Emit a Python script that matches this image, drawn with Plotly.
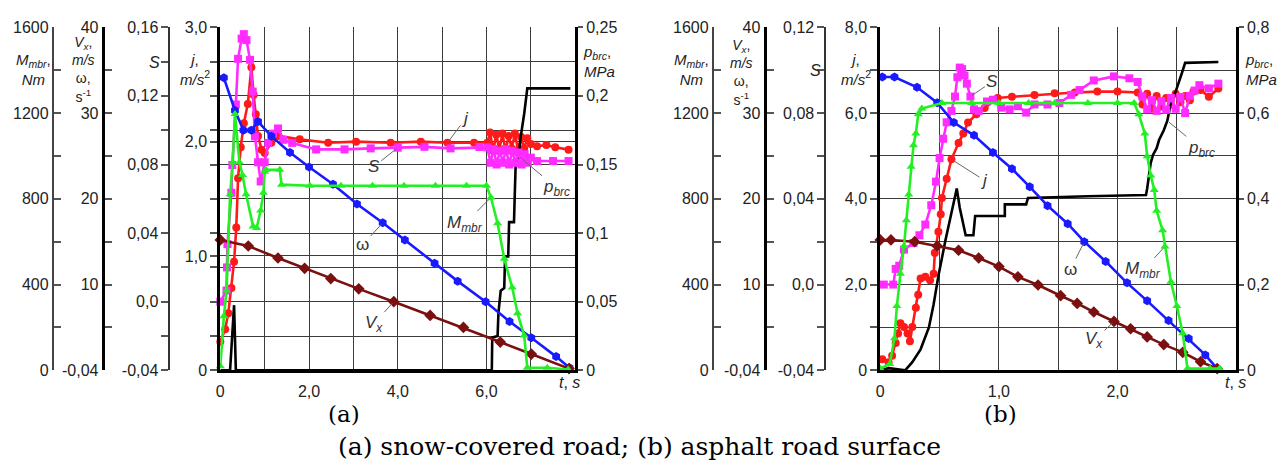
import plotly.graph_objects as go

W, H = 1282, 468
def fx(p): return p / W
def fy(p): return 1 - p / H

# ---------------- data: panel (a) snow-covered road ----------------
ta_w = [0.08, 0.33, 0.52, 0.70, 0.85, 1.15, 1.57, 2.0, 2.54, 3.08, 3.66, 4.16, 4.83, 5.35, 5.98, 6.52, 7.01, 7.57, 7.87]
w_a  = [34.1, 30.3, 28.0, 28.0, 29.0, 27.3, 25.4, 23.7, 21.7, 19.4, 17.2, 15.2, 12.5, 10.4, 8.0, 5.7, 3.8, 1.6, 0.3]

ta_v = [0.0, 0.63, 1.30, 1.90, 2.49, 3.12, 3.91, 4.73, 5.48, 6.31, 7.01, 7.86]
v_a  = [15.2, 14.5, 13.1, 11.9, 10.7, 9.5, 8.0, 6.4, 5.0, 3.3, 1.9, 0.2]

ta_j = [0.0, 0.11, 0.18, 0.25, 0.31, 0.36, 0.40, 0.46, 0.53, 0.62, 0.70, 0.75, 0.80, 0.85, 0.93, 1.00,
        1.15, 1.31, 1.79, 2.43, 3.06, 3.84, 4.52, 5.12, 5.72, 6.02, 6.08, 6.15, 6.22, 6.29, 6.36, 6.43,
        6.50, 6.57, 6.64, 6.71, 6.78, 6.85, 6.92, 7.00, 7.14, 7.35, 7.55, 7.85]
j_a  = [0.25, 0.36, 0.50, 0.72, 0.95, 1.25, 1.68, 1.95, 2.16, 2.33, 2.65, 2.41, 2.24, 2.05, 1.93, 1.90,
        1.99, 2.05, 2.02, 1.99, 2.00, 1.99, 2.00, 1.99, 1.99, 1.99, 2.08, 1.92, 2.06, 1.93, 2.07, 1.92,
        2.05, 1.94, 2.07, 1.93, 2.04, 1.94, 2.03, 1.98, 1.96, 1.97, 1.95, 1.93]

ta_s = [0.0, 0.14, 0.15, 0.16, 0.25, 0.27, 0.35, 0.40, 0.48, 0.53, 0.59, 0.67, 0.73, 0.78, 0.85, 0.91,
        1.00, 1.08, 1.19, 1.30, 1.42, 1.62, 2.16, 2.80, 3.39, 4.00, 4.60, 5.19, 5.84, 6.02, 6.09, 6.16,
        6.23, 6.30, 6.37, 6.44, 6.51, 6.58, 6.65, 6.72, 6.79, 6.86, 6.93, 7.00, 7.14, 7.50, 7.85]
s_a  = [0.0, 0.0065, 0.020, 0.0336, 0.0635, 0.0797, 0.115, 0.1416, 0.1534, 0.156, 0.1525, 0.141, 0.1225,
        0.0964, 0.0813, 0.0701, 0.0813, 0.0926, 0.098, 0.101, 0.0944, 0.0926, 0.0888, 0.0888, 0.0894,
        0.0898, 0.0903, 0.0894, 0.0902, 0.090, 0.081, 0.089, 0.080, 0.088, 0.081, 0.089, 0.080, 0.088,
        0.081, 0.087, 0.080, 0.086, 0.081, 0.084, 0.082, 0.082, 0.082]

ta_m = [0.0, 0.08, 0.14, 0.22, 0.28, 0.33, 0.43, 0.50, 0.58, 0.74, 0.82, 0.91, 0.97, 1.00, 1.03, 1.34,
        1.38, 2.02, 2.72, 3.43, 4.14, 4.85, 5.55, 6.00, 6.10, 6.25, 6.40, 6.58, 6.70, 6.85, 6.92, 7.37, 7.84]
m_a  = [19, 252, 372, 821, 971, 1195, 971, 911, 821, 671, 664, 746, 828, 926, 935, 935,
        866, 861, 861, 861, 861, 861, 861, 861, 806, 686, 521, 386, 266, 162, 12, 12, 4]

ta_p = [0.0, 0.22, 0.31, 0.35, 6.12, 6.13, 6.25, 6.27, 6.32, 6.40, 6.42, 6.49, 6.51, 6.62, 6.64, 6.66,
        6.73, 6.77, 6.85, 6.90, 6.92, 7.89]
p_a  = [0.0, 0.0, 0.0475, 0.0, 0.0, 0.024, 0.025, 0.042, 0.058, 0.060, 0.083, 0.083, 0.108, 0.108, 0.131,
        0.152, 0.156, 0.170, 0.187, 0.203, 0.2055, 0.2055]

# ---------------- data: panel (b) asphalt road surface ----------------
tb_w = [0.017, 0.12, 0.31, 0.48, 0.62, 0.79, 0.95, 1.11, 1.26, 1.41, 1.58, 1.72, 1.90, 2.08, 2.25, 2.43, 2.60, 2.74, 2.84]
w_b  = [34.2, 34.2, 33.0, 31.2, 28.9, 27.4, 25.4, 23.5, 21.4, 19.2, 17.1, 15.0, 12.7, 10.2, 8.1, 5.8, 3.7, 1.8, 0.2]

tb_v = [0.0, 0.09, 0.29, 0.48, 0.66, 0.83, 1.00, 1.16, 1.33, 1.52, 1.66, 1.80, 1.97, 2.11, 2.25, 2.39, 2.55, 2.70, 2.84]
v_b  = [15.2, 15.2, 15.0, 14.5, 14.0, 13.1, 12.1, 10.9, 9.95, 8.7, 7.8, 6.8, 5.7, 4.85, 3.9, 3.0, 2.1, 1.0, 0.2]

tb_m = [0.0, 0.08, 0.12, 0.14, 0.17, 0.20, 0.22, 0.24, 0.26, 0.28, 0.30, 0.32, 0.35, 0.52, 0.77, 1.0,
        1.25, 1.47, 1.75, 2.0, 2.14, 2.18, 2.23, 2.25, 2.28, 2.31, 2.33, 2.38, 2.40, 2.45, 2.50, 2.55,
        2.59, 2.78, 2.86]
m_b  = [8, 30, 150, 300, 450, 580, 700, 820, 950, 1050, 1104, 1194, 1221, 1247, 1247, 1247,
        1247, 1247, 1247, 1247, 1247, 1194, 1104, 999, 909, 841, 744, 653, 578, 413, 300, 173,
        8, 8, 8]

tb_s = [0.03, 0.11, 0.13, 0.16, 0.20, 0.28, 0.33, 0.38, 0.43, 0.47, 0.50, 0.53, 0.56, 0.60, 0.63, 0.65,
        0.67, 0.69, 0.71, 0.73, 0.76, 0.79, 0.83, 0.90, 0.95, 1.02, 1.09, 1.16, 1.23, 1.30, 1.41, 1.51,
        1.61, 1.68, 1.80, 1.97, 2.10, 2.17, 2.21, 2.25, 2.29, 2.33, 2.37, 2.41, 2.45, 2.49, 2.53, 2.57,
        2.61, 2.65, 2.69, 2.77, 2.85]
s_b  = [0.0, 0.0, 0.0073, 0.0088, 0.0163, 0.0194, 0.0230, 0.0280, 0.0370, 0.0480, 0.0590, 0.0680,
        0.0757, 0.0810, 0.0877, 0.0967, 0.1012, 0.1005, 0.0975, 0.0937, 0.0877, 0.0817, 0.0810, 0.0854,
        0.0862, 0.0825, 0.0817, 0.0832, 0.0802, 0.0840, 0.0840, 0.0847, 0.0885, 0.0907, 0.0952, 0.0971,
        0.0962, 0.0945, 0.0877, 0.0817, 0.0860, 0.0810, 0.0855, 0.0815, 0.0870, 0.0820, 0.0875, 0.0800,
        0.0880, 0.0905, 0.0930, 0.0915, 0.0937]

tb_j = [0.017, 0.07, 0.10, 0.13, 0.15, 0.17, 0.20, 0.23, 0.25, 0.27, 0.30, 0.32, 0.34, 0.38, 0.42, 0.45,
        0.46, 0.49, 0.51, 0.52, 0.56, 0.60, 0.66, 0.70, 0.74, 0.81, 0.88, 0.99, 1.11, 1.30, 1.47, 1.64,
        1.83, 2.00, 2.17, 2.21, 2.25, 2.29, 2.33, 2.37, 2.41, 2.45, 2.49, 2.53, 2.57, 2.61, 2.64, 2.70,
        2.77, 2.85]
j_b  = [0.26, 0.19, 0.34, 0.64, 0.86, 1.10, 1.01, 0.86, 0.68, 1.01, 1.46, 1.76, 2.14, 2.18, 2.10, 2.25,
        2.74, 3.23, 3.64, 4.02, 4.47, 4.92, 5.30, 5.52, 5.78, 5.97, 6.12, 6.35, 6.38, 6.42, 6.46, 6.48,
        6.50, 6.50, 6.48, 6.20, 6.45, 6.10, 6.40, 6.15, 6.35, 6.20, 6.45, 6.25, 6.40, 6.30, 6.50, 6.54,
        6.38, 6.57]

tb_p = [0.0, 0.07, 0.21, 0.27, 0.34, 0.41, 0.45, 0.49, 0.55, 0.60, 0.63, 0.645, 0.67, 0.72, 0.785, 0.80,
        1.05, 1.05, 1.23, 1.245, 1.75, 2.24, 2.25, 2.28, 2.30, 2.33, 2.35, 2.39, 2.42, 2.45, 2.49, 2.52,
        2.54, 2.57, 2.85]
p_b  = [0.0, 0.005, 0.0, 0.019, 0.049, 0.10, 0.154, 0.22, 0.304, 0.364, 0.406, 0.424, 0.379, 0.315, 0.315,
        0.36, 0.36, 0.387, 0.387, 0.402, 0.406, 0.409, 0.424, 0.484, 0.503, 0.518, 0.537, 0.56, 0.582,
        0.624, 0.65, 0.672, 0.691, 0.717, 0.719]

# ---------------- tick labels ----------------
xa_vals, xa_text = [0, 2, 4, 6], ['0', '2,0', '4,0', '6,0']
xb_vals, xb_text = [0, 1, 2], ['0', '1,0', '2,0']
ja_vals, ja_text = [0, 1, 2, 3], ['0', '1,0', '2,0', '3,0']
jb_vals, jb_text = [0, 2, 4, 6, 8], ['0', '2,0', '4,0', '6,0', '8,0']
pa_vals, pa_text = [0, 0.05, 0.1, 0.15, 0.2, 0.25], ['0', '0,05', '0,1', '0,15', '0,2', '0,25']
pb_vals, pb_text = [0, 0.2, 0.4, 0.6, 0.8], ['0', '0,2', '0,4', '0,6', '0,8']
sa_vals, sa_text = [-0.04, 0, 0.04, 0.08, 0.12, 0.16], ['-0,04', '0,0', '0,04', '0,08', '0,12', '0,16']
sb_vals, sb_text = [-0.04, 0, 0.04, 0.08, 0.12], ['-0,04', '0,0', '0,04', '0,08', '0,12']
v_vals, v_text = [0, 10, 20, 30, 40], ['-0,04', '10', '20', '30', '40']
m_vals, m_text = [0, 400, 800, 1200, 1600], ['0', '400', '800', '1200', '1600']

BLUE = '#1a1aff'; DRED = '#7a1010'; RED = '#ff1a1a'; MAG = '#ff2bff'; GRN = '#22f022'; BLK = '#000000'
GRID = '#3c3c3c'
TF = dict(family='Liberation Sans, Arial, sans-serif', size=16, color='#222222')

fig = go.Figure()

def series(t, v, xa, ya, color, symbol=None, markers=True, msize=8):
    fig.add_trace(go.Scatter(
        x=t, y=v, xaxis=xa, yaxis=ya,
        mode='lines+markers' if markers else 'lines',
        line=dict(color=color, width=2.6),
        marker=dict(symbol=symbol or 'circle', size=msize, color=color),
        cliponaxis=False, showlegend=False, hoverinfo='skip'))

# panel (a)
series(ta_m, m_a, 'x', 'y5', GRN, 'triangle-up')
series(ta_s, s_a, 'x', 'y3', MAG, 'square')
series(ta_j, j_a, 'x', 'y', RED, 'circle')
series(ta_w, w_a, 'x', 'y4', BLUE, 'hexagon', msize=9)
series(ta_v, v_a, 'x', 'y4', DRED, 'diamond', msize=9)
series(ta_p, p_a, 'x', 'y2', BLK, markers=False)
# panel (b)
series(tb_m, m_b, 'x2', 'y10', GRN, 'triangle-up')
series(tb_s, s_b, 'x2', 'y8', MAG, 'square')
series(tb_j, j_b, 'x2', 'y6', RED, 'circle')
series(tb_w, w_b, 'x2', 'y9', BLUE, 'hexagon', msize=9)
series(tb_v, v_b, 'x2', 'y9', DRED, 'diamond', msize=9)
series(tb_p, p_b, 'x2', 'y7', BLK, markers=False)

YDOM = [fy(376), fy(20)]

def xaxis(dom, rng, tv, tt, mdt, anchor):
    return dict(domain=dom, range=rng, anchor=anchor, tickvals=tv, ticktext=tt,
                ticks='outside', ticklen=5, tickcolor='rgba(0,0,0,0)',
                showgrid=True, gridcolor=GRID, gridwidth=1,
                minor=dict(tick0=0, dtick=mdt, showgrid=True, gridcolor=GRID, gridwidth=1, ticks=''),
                showline=True, linecolor='black', linewidth=2.5, zeroline=False, tickfont=TF)

def free_axis(pos, rng, tv, tt, mdt, ticks, overlay, lw, lc):
    return dict(anchor='free', position=pos, overlaying=overlay, side='left', range=rng,
                tickvals=tv, ticktext=tt, ticks=ticks, ticklen=7, tickwidth=1.5, tickcolor='#555',
                minor=dict(tick0=0, dtick=mdt, ticks=ticks, ticklen=7, tickwidth=1.5, tickcolor='#555',
                           showgrid=False),
                showline=True, linecolor=lc, linewidth=lw, showgrid=False, zeroline=False, tickfont=TF)

def main_left(dom_anchor, rng, tv, tt, minor):
    return dict(domain=YDOM, anchor=dom_anchor, range=rng, tickvals=tv, ticktext=tt,
                ticks='outside', ticklen=7, tickwidth=1.5, tickcolor='#555',
                showgrid=True, gridcolor=GRID, gridwidth=1, minor=minor,
                showline=True, linecolor='black', linewidth=3, zeroline=False, tickfont=TF)

def right_axis(overlay, anchor, rng, tv, tt, grid, minor=None):
    d = dict(overlaying=overlay, anchor=anchor, side='right', range=rng, tickvals=tv, ticktext=tt,
             ticks='outside', ticklen=5, tickwidth=1.5, tickcolor='#555',
             showgrid=grid, gridcolor=GRID, gridwidth=1,
             showline=True, linecolor='black', linewidth=2.5, zeroline=False, tickfont=TF)
    if minor:
        d['minor'] = minor
    return d

layout_axes = dict(
    xaxis=xaxis([fx(217), fx(573)], [0, 8], xa_vals, xa_text, 1, 'y'),
    yaxis=main_left('x', [0, 3], ja_vals, ja_text,
                    dict(tickmode='array', tickvals=[round(0.3 * k, 2) for k in range(11)],
                         ticks='outside', ticklen=7, tickwidth=1.5, tickcolor='#555', showgrid=False)),
    yaxis2=right_axis('y', 'x', [0, 0.25], pa_vals, pa_text, True,
                      dict(tick0=0, dtick=0.025, showgrid=True, gridcolor=GRID, gridwidth=1, ticks='')),
    yaxis3=free_axis(fx(166), [-0.04, 0.16], sa_vals, sa_text, 0.02, 'outside', 'y', 2, '#333'),
    yaxis4=free_axis(fx(99), [0, 40], v_vals, v_text, 5, 'inside', 'y', 3, 'black'),
    yaxis5=free_axis(fx(49), [0, 1600], m_vals, m_text, 200, 'inside', 'y', 2, '#444'),

    xaxis2=xaxis([fx(879), fx(1236)], [0, 3.0], xb_vals, xb_text, 0.5, 'y6'),
    yaxis6=main_left('x2', [0, 8], jb_vals, jb_text,
                     dict(tick0=0, dtick=1, ticks='outside', ticklen=7, tickwidth=1.5, tickcolor='#555',
                          showgrid=True, gridcolor=GRID, gridwidth=1)),
    yaxis7=right_axis('y6', 'x2', [0, 0.8], pb_vals, pb_text, False),
    yaxis8=free_axis(fx(824), [-0.04, 0.12], sb_vals, sb_text, 0.02, 'outside', 'y6', 2, '#333'),
    yaxis9=free_axis(fx(763), [0, 40], v_vals, v_text, 5, 'inside', 'y6', 3, 'black'),
    yaxis10=free_axis(fx(711), [0, 1600], m_vals, m_text, 200, 'inside', 'y6', 2, '#444'),
)

# ---------------- annotations ----------------
LF = dict(family='Liberation Sans, Arial, sans-serif', size=15, color='#222222')
anns = []

def label(x, y, text, size=15, xanchor='center', family=None, color='#222222'):
    f = dict(LF); f['size'] = size; f['color'] = color
    if family:
        f['family'] = family
    anns.append(dict(xref='paper', yref='paper', x=fx(x), y=fy(y), text=text, showarrow=False,
                     font=f, xanchor=xanchor, yanchor='middle', borderpad=0,
                     align='center' if xanchor == 'center' else 'left'))

T_M = '<i>M</i><sub><i>mbr</i></sub>,<br><i>Nm</i>'
T_V = '<i>V</i><sub><i>x</i></sub>,<br><i>m/s</i><br>ω,<br>s<sup>-1</sup>'
T_S = '<i>S</i>'
T_J = '<i>j</i>,<br><i>m/s</i><sup>2</sup>'
T_P = '<i>p</i><sub><i>brc</i></sub>,<br><i>MPa</i>'
T_T = '<i>t</i>, <i>s</i>'

label(30, 64, T_M); label(80, 64, T_V, 14); label(151, 57, T_S, 16); label(192, 64, T_J)
label(580, 56, T_P, xanchor='left'); label(567, 389, T_T, 16)
label(690, 64, T_M); label(740, 67, T_V, 14); label(814, 65, T_S, 16); label(855, 64, T_J)
label(1244, 64, T_P, xanchor='left'); label(1235, 389, T_T, 16)

SERIF = 'DejaVu Serif, Liberation Serif, serif'
label(341, 421, '(a)', 23, family=SERIF, color='#000000')
label(1000, 421, '(b)', 23, family=SERIF, color='#000000')
label(637, 455, '(a) snow-covered road; (b) asphalt road surface', 25, family=SERIF, color='#000000')

def curve_label(text, xa, ya, tlist, vlist, t, ax, ay):
    i = tlist.index(t)
    anns.append(dict(xref=xa, yref=ya, x=tlist[i], y=vlist[i], text=text, showarrow=True,
                     arrowhead=0, arrowwidth=1, arrowcolor='#666', ax=ax, ay=ay, standoff=2,
                     font=dict(family='Liberation Sans, Arial, sans-serif', size=17, color='#333333')))

curve_label('<i>j</i>', 'x', 'y', ta_j, j_a, 5.12, 18, -24)
curve_label('<i>S</i>', 'x', 'y3', ta_s, s_a, 4.00, -24, 19)
curve_label('<i>p</i><sub><i>brc</i></sub>', 'x', 'y2', ta_p, p_a, 6.73, 38, 32)
curve_label('<i>M</i><sub><i>mbr</i></sub>', 'x', 'y5', ta_m, m_a, 6.10, -26, 26)
curve_label('ω', 'x', 'y4', ta_w, w_a, 3.66, -20, 22)
curve_label('<i>V</i><sub><i>x</i></sub>', 'x', 'y4', ta_v, v_a, 3.91, -20, 22)

curve_label('<i>S</i>', 'x2', 'y8', tb_s, s_b, 0.76, 22, -15)
curve_label('<i>j</i>', 'x2', 'y6', tb_j, j_b, 0.60, 33, 21)
curve_label('<i>p</i><sub><i>brc</i></sub>', 'x2', 'y7', tb_p, p_b, 2.42, 34, 28)
curve_label('ω', 'x2', 'y9', tb_w, w_b, 1.72, -14, 28)
curve_label('<i>M</i><sub><i>mbr</i></sub>', 'x2', 'y10', tb_m, m_b, 2.40, -22, 24)
curve_label('<i>V</i><sub><i>x</i></sub>', 'x2', 'y9', tb_v, v_b, 1.97, -20, 19)

fig.update_layout(width=W, height=H, margin=dict(l=0, r=0, t=0, b=0),
                  plot_bgcolor='white', paper_bgcolor='white', showlegend=False,
                  annotations=anns, **layout_axes)

fig.write_html('out.html')
